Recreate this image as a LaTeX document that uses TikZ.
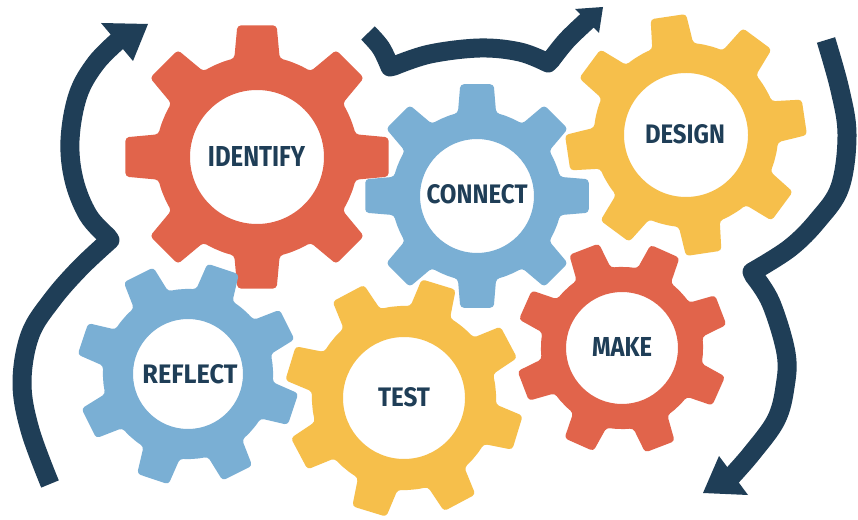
\documentclass[tikz,border=0pt]{standalone}
\usepackage{fontspec}
\newfontfamily\gearfont{Fira Sans}
\definecolor{gearred}{HTML}{E1644B}
\definecolor{gearblue}{HTML}{7AAFD4}
\definecolor{gearyellow}{HTML}{F6BF4B}
\definecolor{navy}{HTML}{1F3E57}

% #1 cx, #2 cy, #3 tip radius, #4 root radius, #5 hole radius, #6 angle offset, #7 colour
\newcommand{\drawcog}[7]{%
  \fill[#7, even odd rule, rounded corners=3.5pt, shift={(#1,#2)}]
    ({#6+22.5}:#4)
    \foreach \k in {0,...,7}{
      arc[start angle={#6+45*\k+22.5}, end angle={#6+45*\k+32}, radius=#4]
      -- ({#6+45*\k+36.5}:#3) -- ({#6+45*\k+53.5}:#3) -- ({#6+45*\k+58}:#4)
      arc[start angle={#6+45*\k+58}, end angle={#6+45*\k+67.5}, radius=#4]
    }
    (0,0) circle[radius=#5];
}

\tikzset{
  word/.style={inner sep=0pt, text=navy, font=\gearfont\bfseries},
  flow/.style={draw=navy, line width=19pt, line join=round, line cap=butt},
  head/.style={fill=navy}
}

\begin{document}
\begin{tikzpicture}[x=1pt, y=1pt]
  \fill[white] (0,0) rectangle (858,519);
  \useasboundingbox (0,0) rectangle (858,519);

  % gears
  \drawcog{257}{362}{133}{101}{67}{0}{gearred}
  \drawcog{477}{323}{113}{85}{57}{0}{gearblue}
  \drawcog{686}{384}{121}{92}{62}{8.5}{gearyellow}
  \drawcog{188}{145}{112}{85}{55}{26.5}{gearblue}
  \drawcog{404}{121}{120}{92}{61}{28}{gearyellow}
  \drawcog{622}{171}{107}{81}{56}{21}{gearred}

  % labels
  \node[word] (identify) at (256.5,362) {\resizebox{97pt}{20pt}{IDENTIFY}};
  \node[word] (connect)  at (477,325)   {\resizebox{101pt}{19pt}{CONNECT}};
  \node[word] (design)   at (685,385)   {\resizebox{80pt}{19pt}{DESIGN}};
  \node[word] (reflect)  at (190,145)   {\resizebox{95pt}{19pt}{REFLECT}};
  \node[word] (test)     at (404,122)   {\resizebox{52pt}{19pt}{TEST}};
  \node[word] (make)     at (622,172)   {\resizebox{60pt}{19pt}{MAKE}};

  % left arrow, climbing up past REFLECT and IDENTIFY
  \draw[flow] plot[smooth, tension=0.6] coordinates {(50,35) (30,89) (22,136) (30,184) (52,219) (80,251) (110,279)}
    -- plot[smooth, tension=0.6] coordinates {(107,283) (88,304) (74,339) (70,379) (78,424) (96,456) (120,480)};
  \coordinate (ltip) at (148,495);
  \fill[head] (101,496) -- (ltip) -- (133,458) -- cycle;

  % top arrow, over CONNECT towards DESIGN
  \draw[flow] plot[smooth, tension=0.6] coordinates {(368,486) (381,471) (390,452)}
    -- plot[smooth, tension=0.6] coordinates {(394,453) (430,465) (480,471) (520,467) (548,456)}
    -- plot[smooth, tension=0.6] coordinates {(551,459) (567,479) (589,500)};
  \coordinate (mtip) at (603,512);
  \fill[head] (575,510) -- (mtip) -- (599,486) -- cycle;

  % right arrow, coming down past DESIGN and MAKE
  \draw[flow] plot[smooth, tension=0.6] coordinates {(826,479) (840,429) (847,384) (840,332) (818,299) (790,271) (752,247)}
    -- plot[smooth, tension=0.6] coordinates {(754,243) (771,216) (786,166) (785,132) (776,99) (752,66) (731,42)};
  \coordinate (rtip) at (703,26);
  \fill[head] (719,63) -- (rtip) -- (748,24) -- cycle;
\end{tikzpicture}
\end{document}
